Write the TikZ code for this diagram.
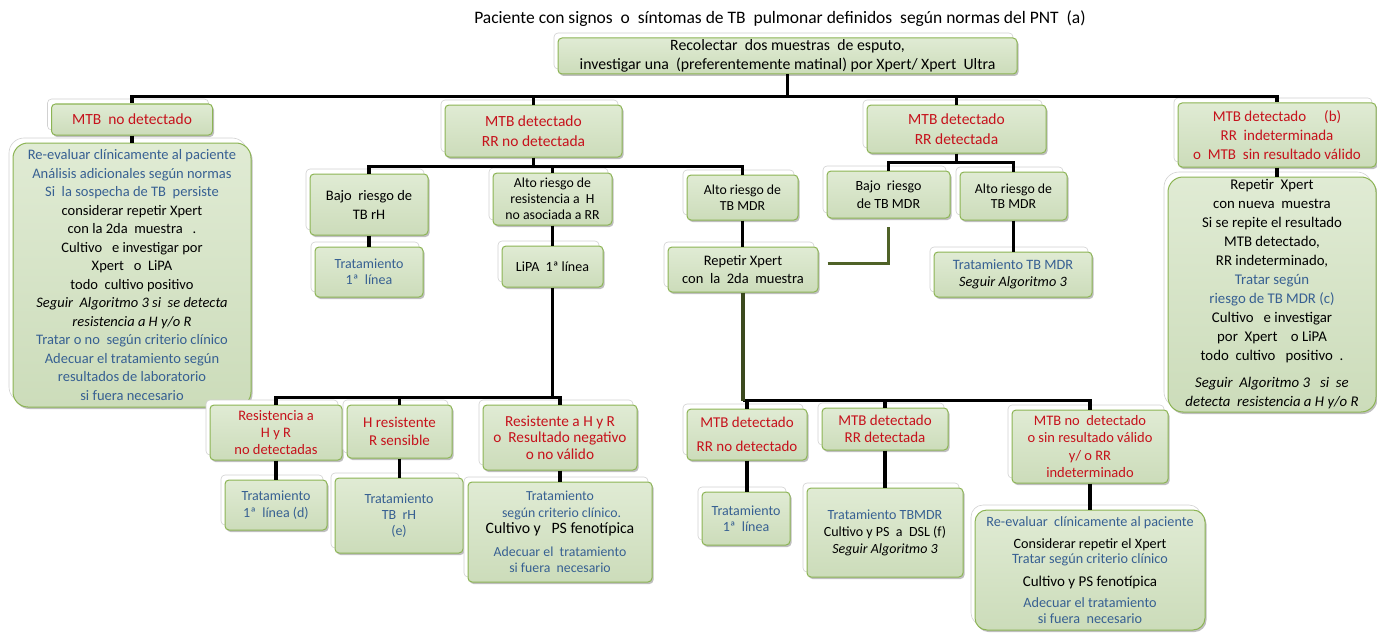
\documentclass[tikz,border=0pt]{standalone}
\usepackage{fontspec}
\setmainfont{Carlito}
\usetikzlibrary{shadows}

\definecolor{boxline}{RGB}{140,180,84}
\definecolor{boxtop}{RGB}{224,235,212}
\definecolor{boxbot}{RGB}{204,220,186}
\definecolor{tred}{RGB}{198,18,28}
\definecolor{tblue}{RGB}{55,96,146}
\definecolor{dkgrn}{RGB}{79,98,40}

\begin{document}
\begin{tikzpicture}[
        x=1pt, y=-1pt,
        box/.style={draw=boxline, line width=1pt, rounded corners=4pt,
            top color=boxtop, bottom color=boxbot, align=center, inner sep=1pt,
            general shadow={shadow xshift=-4pt, shadow yshift=5pt, fill=white, draw=black!18, line width=0.6pt},
            drop shadow={shadow xshift=1.5pt, shadow yshift=-2pt, opacity=0.25, fill=black}},
        big/.style={box, rounded corners=15pt},
        txt/.style={font=\fontsize{14}{18.5}\selectfont},
        hd/.style={text=tred, font=\fontsize{15.5}{20}\selectfont},
        bus/.style={line width=3.5pt},
        grn/.style={line width=3pt, dkgrn},
        vgrn/.style={line width=3.5pt, dkgrn!75!black}
    ]
        \useasboundingbox (0,0) rectangle (1377,634);

        % titulo y muestra
        \node[font=\fontsize{17.5}{20}\selectfont] (title) at (780,19)
            {Paciente con signos\ \ o\ \ síntomas de TB\ \ pulmonar definidos\ \ según normas del PNT\ \ (a)};
        \node[box, font=\fontsize{15.8}{19}\selectfont, minimum width=459, minimum height=36] (recol) at (787.5,56)
            {Recolectar\ \ dos muestras\ \ de esputo,\\ investigar una\ \ (preferentemente matinal) por Xpert/\ Xpert\ \ Ultra};

        % resultados Xpert
        \node[box, hd, minimum width=161, minimum height=31] (nodet) at (132,119.5) {MTB\ \ no detectado};
        \node[box, hd, minimum width=177, minimum height=52] (mtbrr) at (533.5,131) {MTB detectado\\ RR no detectada};
        \node[box, hd, minimum width=179, minimum height=48] (mtbrd) at (956.5,129) {MTB detectado\\ RR detectada};
        \node[box, hd, font=\fontsize{15}{19}\selectfont, minimum width=198, minimum height=64] (mtbind) at (1277,135)
            {MTB detectado\hspace{1.2em}(b)\\ RR\ \ indeterminada\\ o\ \ MTB\ \ sin resultado válido};

        % MTB no detectado
        \node[big, font=\fontsize{14.5}{18.5}\selectfont, minimum width=238, minimum height=264] (reeval) at (132,275) {%
            \textcolor{tblue}{Re-evaluar clínicamente al paciente}\\
            \textcolor{tblue}{Análisis adicionales\ según normas}\\
            \textcolor{tblue}{Si\ \ la sospecha de TB\ \ persiste}\\
            considerar repetir Xpert\\
            con la 2da\ \ muestra\ \ \ .\\
            Cultivo\ \ \ e investigar por\\
            Xpert\ \ \ o\ \ LiPA\\
            todo\ \ cultivo positivo\\
            \textit{Seguir\ \ Algoritmo 3 si\ \ se detecta}\\
            \textit{resistencia a H y/o R}\\
            \textcolor{tblue}{Tratar o no\ \ según criterio clínico}\\
            \textcolor{tblue}{Adecuar el tratamiento según}\\
            \textcolor{tblue}{resultados de laboratorio}\\
            \textcolor{tblue}{si fuera\ necesario}};

        % RR no detectada
        \node[box, font=\fontsize{14.5}{19}\selectfont, minimum width=118, minimum height=61] (bajoH) at (369,204.5) {Bajo\ \ riesgo de\\ TB rH};
        \node[box, font=\fontsize{13.8}{16}\selectfont, minimum width=119, minimum height=52] (altoH) at (552.5,199) {Alto riesgo de\\ resistencia a\ \ H\\ no asociada a RR};
        \node[box, font=\fontsize{13.8}{15.5}\selectfont, minimum width=111, minimum height=45] (altoM) at (742.5,197.5) {Alto riesgo de\\ TB MDR};
        \node[box, text=tblue, font=\fontsize{14}{16}\selectfont, minimum width=108, minimum height=50] (trat1) at (369,272) {Tratamiento\\ 1ª\ \ línea};
        \node[box, txt, minimum width=101, minimum height=41] (lipa) at (552.5,266.5) {LiPA\ \ 1ª línea};
        \node[box, font=\fontsize{14.5}{18}\selectfont, minimum width=150, minimum height=45] (rep2) at (743,269.5) {Repetir Xpert\\ con\ \ la\ \ 2da\ \ muestra};

        % RR detectada
        \node[box, font=\fontsize{14}{18}\selectfont, minimum width=123, minimum height=47] (bajoM) at (888.5,194.5) {Bajo\ \ riesgo\\ de TB MDR};
        \node[box, font=\fontsize{13.8}{15.5}\selectfont, minimum width=107, minimum height=48] (altoM2) at (1013.5,196) {Alto riesgo de\\ TB MDR};
        \node[box, font=\fontsize{14.3}{17}\selectfont, minimum width=158, minimum height=45] (tratM) at (1013,274.5)
            {\textcolor{tblue}{Tratamiento TB MDR}\\ \textit{Seguir Algoritmo 3}};

        % RR indeterminada
        \node[big, font=\fontsize{14.8}{19}\selectfont, minimum width=208, minimum height=235] (repX) at (1272,294.5) {%
            Repetir\ \ Xpert\\
            con nueva\ \ muestra\\
            Si se repite el resultado\\
            MTB detectado,\\
            RR indeterminado,\\
            \textcolor{tblue}{Tratar según}\\
            \textcolor{tblue}{riesgo de TB MDR\ (c)}\\
            Cultivo\ \ \ e investigar\\
            por\ \ Xpert\ \ \ \ o LiPA\\
            todo\ \ cultivo\ \ \ positivo\ \ .\\[8pt]
            \textit{Seguir\ \ Algoritmo 3\ \ \ si\ \ se}\\
            \textit{detecta\ \ resistencia a H y/o R}};

        % resultado LiPA
        \node[box, hd, font=\fontsize{14.5}{17}\selectfont, minimum width=132, minimum height=55] (resno) at (276,432.5) {Resistencia a\\ H y R\\ no detectadas};
        \node[box, hd, font=\fontsize{15}{18}\selectfont, minimum width=105, minimum height=53] (hres) at (399.5,431.5) {H resistente\\ R sensible};
        \node[box, hd, font=\fontsize{15.3}{16.5}\selectfont, minimum width=154, minimum height=65] (resHR) at (560,437.5) {Resistente a H y R\\ o\ \ Resultado negativo\\ o no válido};
        \node[box, text=tblue, font=\fontsize{14}{17}\selectfont, minimum width=102, minimum height=50] (trat1d) at (276,505) {Tratamiento\\ 1ª\ \ línea (d)};
        \node[box, text=tblue, font=\fontsize{14}{16}\selectfont, minimum width=128, minimum height=75] (tratrH) at (399,515.5) {Tratamiento\\ TB\ \ rH\\ (e)};
        \node[box, text=tblue, font=\fontsize{13.8}{16.5}\selectfont, minimum width=184, minimum height=100] (tratC) at (560,532) {%
            Tratamiento\\
            \ según\ criterio clínico.\\
            {\color{black}\fontsize{15.8}{16}\selectfont Cultivo y\ \ \ PS fenotípica}\\[6pt]
            Adecuar el\ \ tratamiento\\
            si fuera\ \ necesario};

        % repetir Xpert
        \node[box, hd, font=\fontsize{15}{24}\selectfont, minimum width=120, minimum height=51] (mtbA) at (747,434.5) {MTB detectado\\ RR no detectado};
        \node[box, hd, font=\fontsize{15}{17}\selectfont, minimum width=126, minimum height=42] (mtbB) at (885,429) {MTB detectado\\ RR detectada};
        \node[box, hd, font=\fontsize{14.5}{17.3}\selectfont, minimum width=156, minimum height=73] (mtbC) at (1090,446.5)
            {MTB no\ \ detectado\\ o sin resultado válido\\ y/\ o RR\\ indeterminado};
        \node[box, text=tblue, font=\fontsize{14}{16}\selectfont, minimum width=88, minimum height=53] (trat1b) at (746,518.5) {Tratamiento\\ 1ª\ \ línea};
        \node[box, font=\fontsize{14}{17}\selectfont, minimum width=156, minimum height=89] (tratDSL) at (885,532.5)
            {\textcolor{tblue}{Tratamiento TBMDR}\\ Cultivo y PS\ \ a\ \ DSL (f)\\ \textit{Seguir Algoritmo 3}};
        \node[box, rounded corners=12pt, font=\fontsize{14.2}{15.5}\selectfont, minimum width=230, minimum height=120] (reeval2) at (1090,570) {%
            \textcolor{tblue}{Re-evaluar\ \ clínicamente al\ paciente}\\[6pt]
            Considerar repetir el\ Xpert\\
            \textcolor{tblue}{Tratar según\ criterio\ clínico}\\[7pt]
            {\fontsize{15}{16}\selectfont Cultivo y PS fenotípica}\\[6pt]
            \textcolor{tblue}{Adecuar el tratamiento}\\
            \textcolor{tblue}{si fuera\ \ necesario}};

        % conectores
        \draw[bus] (recol.south) -- ++(0,22) coordinate (b0);
        \draw[bus] (b0) -| (nodet.north);
        \draw[bus] (b0) -| (mtbrr.north);
        \draw[bus] (b0) -| (mtbrd.north);
        \draw[bus] (b0) -| (mtbind.north);
        \draw[bus] (nodet.south) -- (nodet.south |- reeval.north);
        \draw[bus] (mtbind.south) -- (mtbind.south |- repX.north);

        \draw[bus] (mtbrr.south) -- ++(0,9) coordinate (b1);
        \draw[bus] (b1) -| (bajoH.north);
        \draw[bus] (b1) -| (altoH.north);
        \draw[bus] (b1) -| (altoM.north);
        \draw[bus] (bajoH.south) -- (bajoH.south |- trat1.north);
        \draw[bus] (altoH.south) -- (altoH.south |- lipa.north);
        \draw[bus] (altoM.south) -- (altoM.south |- rep2.north);

        \draw[bus] (mtbrd.south) -- ++(0,9) coordinate (b2);
        \draw[bus] (b2) -| (bajoM.north);
        \draw[bus] (b2) -| (altoM2.north);
        \draw[bus] (altoM2.south) -- (altoM2.south |- tratM.north);
        \draw[grn] ([xshift=9pt, yshift=6pt]rep2.east) -| ([yshift=-8pt]bajoM.south);

        \draw[bus] (lipa.south) -- ++(0,110) coordinate (b3);
        \draw[bus] (b3) -| (resno.north);
        \draw[bus] (b3) -| (hres.north);
        \draw[bus] (b3) -| (resHR.north);
        \draw[bus] (resno.south) -- (resno.south |- trat1d.north);
        \draw[bus] (hres.south) -- (hres.south |- tratrH.north);
        \draw[bus] (resHR.south) -- (resHR.south |- tratC.north);

        \draw[bus] (rep2.south) ++(0,108) coordinate (b4);
        \draw[bus] (b4) -| (mtbA.north);
        \draw[bus] (b4) -| (mtbB.north);
        \draw[bus] (b4) -| (mtbC.north);
        \draw[vgrn] (rep2.south) -- (b4);
        \draw[bus] (mtbA.south) -- (mtbA.south |- trat1b.north);
        \draw[bus] (mtbB.south) -- (mtbB.south |- tratDSL.north);
        \draw[bus] (mtbC.south) -- (mtbC.south |- reeval2.north);

    \end{tikzpicture}
\end{document}
